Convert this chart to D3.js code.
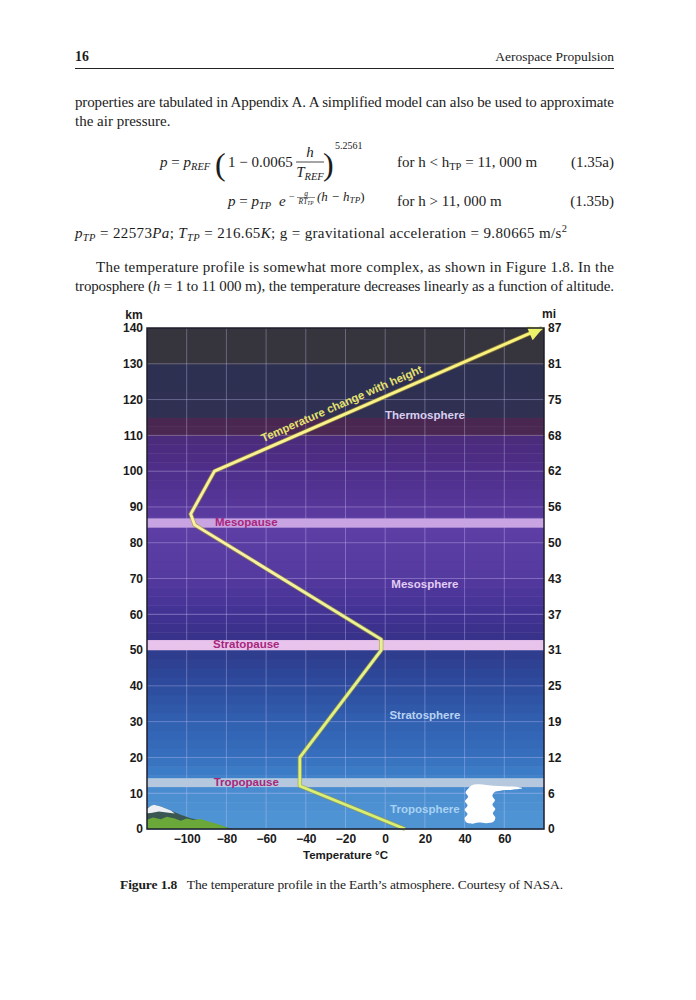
<!DOCTYPE html>
<html><head><meta charset="utf-8">
<script src="https://cdn.jsdelivr.net/npm/d3@7"></script>
<style>
body{margin:0;background:#fff;}
svg{display:block;}
text{white-space:pre;}
.serif{font-family:"Liberation Serif","Times New Roman",serif;fill:#1c1c1c;}
.sans{font-family:"Liberation Sans",Arial,Helvetica,sans-serif;font-weight:bold;}
</style></head><body>
<svg id="page" width="696" height="1000"></svg>
<script>
// ---------------- data ----------------
const kmTicks = [0,10,20,30,40,50,60,70,80,90,100,110,120,130,140];
const miLabels = ["0","6","12","19","25","31","37","43","50","56","62","68","75","81","87"];
const tempTicks = [-100,-80,-60,-40,-20,0,20,40,60];
const profileTemp = [10,-43,-43,-2,-2,-96,-98,-86,79];
const profileKm   = [0,12,20,50,53,85,88,100,140];
const pauseNames = ["Tropopause","Stratopause","Mesopause"];
const pauseLo = [11.7,50,84.2];
const pauseHi = [14.2,52.8,86.8];
const sphereNames = ["Troposphere","Stratosphere","Mesosphere","Thermosphere"];
const sphereKm = [5.6,31.8,68.4,115.6];
const sphereTemp = 20;
const pauseLabelTemp = -70;
// scenery outlines (temperature, km)
const mountainTemp = [-120,-120,-118,-116.5,-113,-108,-103,-98,-92,-86,-81,-77];
const mountainKm   = [0,5.6,6.5,6.8,6.3,5.2,4.0,3.0,2.3,1.5,0.6,0];
const snowTemp = [-120,-118,-116.5,-113,-108,-106,-110,-114,-118,-120];
const snowKm   = [5.6,6.5,6.8,6.3,5.2,4.3,4.6,4.9,4.5,4.4];
const treeTemp = [-120,-120,-117,-113,-110,-106,-103,-100,-97,-93,-89,-85,-82,-79,-78];
const treeKm   = [0,2.6,3.2,2.7,3.4,2.9,2.3,2.9,2.5,2.8,2.1,1.5,0.9,0.3,0];
const cloudTemp = [41,40,41.5,40,41.5,40.2,41.8,40.5,42,44,48,52,57,62,66,69,64,58,55,54,55.3,54,55.5,54.2,55.5,54.5,51,47,44];
const cloudKm   = [1.8,3,4.2,5.4,6.6,7.8,9,10.2,11.4,12.3,12.5,12.2,12.0,11.9,11.8,11.4,11.0,10.7,10.3,9.2,8,6.8,5.6,4.4,3.2,2,1.6,1.8,1.5];

// ---------------- page ----------------
const svg = d3.select('#page');
svg.append('rect').attr('width',696).attr('height',1000).attr('fill','#fff');

function rich(x, y, parts, size, attrs) {
  const t = svg.append('text').attr('class','serif').attr('x',x).attr('y',y).style('font-size', size + 'px');
  if (attrs) for (const k in attrs) t.attr(k, attrs[k]);
  let shift = 0;
  parts.forEach(p => {
    const s = typeof p === 'string' ? p : p[0];
    const st = typeof p === 'string' ? [] : p[1].split(' ');
    const ts = t.append('tspan').text(s);
    let target = 0;
    if (st.includes('sub')) { target = size*0.22; ts.style('font-size', (size*0.7) + 'px'); }
    if (st.includes('sup')) { target = -size*0.4; ts.style('font-size', (size*0.7) + 'px'); }
    if (st.includes('i')) ts.attr('font-style','italic');
    if (st.includes('b')) ts.attr('font-weight','bold');
    if (target - shift !== 0) ts.attr('dy', target - shift);
    shift = target;
  });
  return t;
}
const BODY = 15;

// header
rich(75, 61, [['16','b']], 13.8);
rich(614, 61, ['Aerospace Propulsion'], 13.5, {'text-anchor':'end'});
svg.append('line').attr('x1',75).attr('x2',614).attr('y1',68.5).attr('y2',68.5).attr('stroke','#222').attr('stroke-width',1);

// paragraph 1
rich(75, 107, ['properties are tabulated in Appendix A. A simplified model can also be used to approximate'], BODY, {textLength:539, lengthAdjust:'spacing'});
rich(75, 126, ['the air pressure.'], BODY);

// equation a
rich(160, 167, [['p','i'],' = ',['p','i'],['REF','i sub']], BODY);
rich(215, 175, ['('], 32);
rich(228, 167, ['1 \u2212 0.0065'], BODY);
rich(310, 157, [['h','i']], BODY, {'text-anchor':'middle'});
svg.append('line').attr('x1',296).attr('x2',324).attr('y1',162).attr('y2',162).attr('stroke','#1c1c1c').attr('stroke-width',0.8);
rich(310, 177, [['T','i'],['REF','i sub']], BODY, {'text-anchor':'middle'});
rich(323, 175, [')'], 32);
rich(335, 149, ['5.2561'], 10);
rich(397, 167, ['for h < h',['TP','sub'],' = 11, 000 m'], BODY);
rich(614, 167, ['(1.35a)'], BODY, {'text-anchor':'end'});

// equation b
rich(228, 206, [['p','i'],' = ',['p','i'],['TP','i sub']], BODY);
rich(279, 206, [['e','i']], BODY);
rich(289, 200, ['\u2212'], 10);
rich(306, 195.5, [['g','i']], 7.5, {'text-anchor':'middle'});
svg.append('line').attr('x1',297).attr('x2',315).attr('y1',197.5).attr('y2',197.5).attr('stroke','#1c1c1c').attr('stroke-width',0.5);
rich(306, 203.5, [['RT','i'],['TP','i sub']], 7.5, {'text-anchor':'middle'});
rich(317, 200.5, [['(h \u2212 h','i'],['TP','i sub'],')'], 13);
rich(397, 206, ['for h > 11, 000 m'], BODY);
rich(614, 206, ['(1.35b)'], BODY, {'text-anchor':'end'});

// constants line
rich(75, 238, [['p','i'],['TP','i sub'],' = 22573',['Pa','i'],'; ',['T','i'],['TP','i sub'],' = 216.65',['K','i'],'; g = gravitational acceleration = 9.80665 m/s',['2','sup']], BODY, {textLength:492, lengthAdjust:'spacing'});

// paragraph 2
rich(96, 272, ['The temperature profile is somewhat more complex, as shown in Figure 1.8. In the'], BODY, {textLength:518, lengthAdjust:'spacing'});
rich(75, 291, ['troposphere (',['h','i'],' = 1 to 11 000 m), the temperature decreases linearly as a function of altitude.'], BODY, {textLength:539, lengthAdjust:'spacing'});

// caption
rich(120, 889, [['Figure 1.8','b'],'   The temperature profile in the Earth\u2019s atmosphere. Courtesy of NASA.'], 13.5, {textLength:443, lengthAdjust:'spacing'});

// ---------------- chart ----------------
const x = d3.scaleLinear().domain([-120,80]).range([147,544]);
const y = d3.scaleLinear().domain([0,140]).range([829,328]);
const chart = svg.append('g');

// background shading by altitude (style)
const shade = d3.scaleLinear()
  .domain([0,11,15,20,30,40,50,53,60,70,80,87,90,100,110,110.01,115,115.01,130,130.01,140])
  .range(['#5096d4','#4a8dd0','#3d7ec8','#3770bf','#3160b0','#2e4c9e','#2f3b8c','#37328a','#413292','#54399f','#5b3da3','#5e3fa4','#57379a','#4e2f8a','#4a2a7a','#4a2852','#482650','#2f3052','#2e3052','#36343c','#36343c']);
const bands = d3.range(0,140,2.5);
chart.selectAll('rect.band').data(bands).join('rect').attr('class','band')
  .attr('x', x(-120)).attr('width', x(80)-x(-120))
  .attr('y', d => y(d+2.5)).attr('height', d => y(d)-y(d+2.5)+0.5)
  .attr('fill', d => shade(d+1.25));

// grid
chart.selectAll('line.vg').data(tempTicks).join('line').attr('class','vg')
  .attr('x1', d=>x(d)).attr('x2', d=>x(d)).attr('y1', y(140)).attr('y2', y(0))
  .attr('stroke','#d8d0ff').attr('stroke-opacity',0.33).attr('stroke-width',1);
chart.selectAll('line.hg').data(kmTicks.slice(1,-1)).join('line').attr('class','hg')
  .attr('y1', d=>y(d)).attr('y2', d=>y(d)).attr('x1', x(-120)).attr('x2', x(80))
  .attr('stroke','#d8d0ff').attr('stroke-opacity',0.33).attr('stroke-width',1);

// pause bands
const pauseFill = {Tropopause:'#b6c8de', Stratopause:'#e8c4ec', Mesopause:'#c8a4e2'};
const pauses = pauseNames.map((n,i)=>({name:n, lo:pauseLo[i], hi:pauseHi[i]}));
chart.selectAll('rect.pause').data(pauses).join('rect').attr('class','pause')
  .attr('x', x(-120)).attr('width', x(80)-x(-120))
  .attr('y', d=>y(d.hi)).attr('height', d=>y(d.lo)-y(d.hi))
  .attr('fill', d=>pauseFill[d.name]);

// scenery
const poly = (ts, ks) => 'M' + ts.map((t,i)=>x(t)+','+y(ks[i])).join('L') + 'Z';
chart.append('path').attr('d', poly(mountainTemp, mountainKm)).attr('fill','#3b5753');
chart.append('path').attr('d', poly(snowTemp, snowKm)).attr('fill','#eceff4');
chart.append('path').attr('d', poly(treeTemp, treeKm)).attr('fill','#6aa83a');
const cloudLine = d3.line().x(d=>x(d[0])).y(d=>y(d[1])).curve(d3.curveCatmullRomClosed);
chart.append('path').attr('d', cloudLine(cloudTemp.map((t,i)=>[t,cloudKm[i]]))).attr('fill','#ffffff');

// sphere labels
const sphereFill = {Troposphere:'#a9d2f2', Stratosphere:'#b8d2f4', Mesosphere:'#e2ccf4', Thermosphere:'#dccdf0'};
chart.selectAll('text.sphere').data(sphereNames).join('text').attr('class','sans sphere')
  .attr('x', x(sphereTemp)).attr('y', (d,i)=>y(sphereKm[i])).attr('dy','0.36em')
  .attr('text-anchor','middle').attr('font-size',11.5).attr('fill', d=>sphereFill[d]).text(d=>d);
chart.selectAll('text.pause').data(pauses).join('text').attr('class','sans pause')
  .attr('x', x(pauseLabelTemp)).attr('y', d=>y((d.lo+d.hi)/2+0.2)).attr('dy','0.36em')
  .attr('text-anchor','middle').attr('font-size',11.5).attr('fill','#a8267c').text(d=>d.name);

// profile line
const defs = svg.append('defs');
const grad = defs.append('linearGradient').attr('id','lg').attr('gradientUnits','userSpaceOnUse')
  .attr('x1',0).attr('x2',0).attr('y1',y(140)).attr('y2',y(0));
grad.append('stop').attr('offset','0%').attr('stop-color','#fbf27a');
grad.append('stop').attr('offset','45%').attr('stop-color','#f8f2a4');
grad.append('stop').attr('offset','65%').attr('stop-color','#e4f48c');
grad.append('stop').attr('offset','100%').attr('stop-color','#d6f070');
defs.append('marker').attr('id','arr').attr('viewBox','0 0 10 10').attr('refX',9).attr('refY',5)
  .attr('markerUnits','userSpaceOnUse').attr('markerWidth',17).attr('markerHeight',15).attr('orient','auto')
  .append('path').attr('d','M0,0L10,5L0,10Z').attr('fill','#eef46a');
const pts = profileTemp.map((t,i)=>[t, profileKm[i]]);
const lineGen = d3.line().x(d=>x(d[0])).y(d=>y(d[1]));
chart.append('path').attr('d', lineGen(pts)).attr('fill','none').attr('stroke','#a89a3a').attr('stroke-opacity',0.7)
  .attr('stroke-width',4.4).attr('stroke-linejoin','round');
chart.append('path').attr('d', lineGen(pts)).attr('fill','none').attr('stroke','url(#lg)')
  .attr('stroke-width',2.8).attr('stroke-linejoin','round').attr('marker-end','url(#arr)');

// label along the last segment
const n = pts.length;
const p0 = pts[n-2], p1 = pts[n-1];
const ang = Math.atan2(y(p1[1])-y(p0[1]), x(p1[0])-x(p0[0])) * 180/Math.PI;
const tStart = -60;
const kStart = p0[1] + (p1[1]-p0[1])*(tStart-p0[0])/(p1[0]-p0[0]);
chart.append('text').attr('class','sans').attr('font-size',11.4).attr('fill','#e6e26e')
  .attr('transform',`translate(${x(tStart)},${y(kStart)}) rotate(${ang})`).attr('y',-7)
  .text('Temperature change with height');

// border
chart.append('rect').attr('x',x(-120)).attr('y',y(140)).attr('width',x(80)-x(-120)).attr('height',y(0)-y(140))
  .attr('fill','none').attr('stroke','#1e1e2c').attr('stroke-width',1.5);

// axes
function styleAxis(g){
  g.select('.domain').remove();
  g.selectAll('text').attr('font-family','"Liberation Sans",Arial,sans-serif').attr('font-weight','bold')
    .attr('font-size',12).attr('fill','#1a1a1a');
}
svg.append('g').attr('transform',`translate(${x(-120)},0)`)
  .call(d3.axisLeft(y).tickValues(kmTicks).tickSize(0).tickPadding(4)).call(styleAxis);
svg.append('g').attr('transform',`translate(${x(80)},0)`)
  .call(d3.axisRight(y).tickValues(kmTicks).tickFormat((d,i)=>miLabels[i]).tickSize(0).tickPadding(4)).call(styleAxis);
svg.append('g').attr('transform',`translate(0,${y(0)})`)
  .call(d3.axisBottom(x).tickValues(tempTicks).tickSize(0).tickPadding(5.5)).call(styleAxis);

svg.append('text').attr('class','sans').attr('font-size',12).attr('fill','#1a1a1a')
  .attr('x',134).attr('y',319).attr('text-anchor','middle').text('km');
svg.append('text').attr('class','sans').attr('font-size',12).attr('fill','#1a1a1a')
  .attr('x',549).attr('y',318).attr('text-anchor','middle').text('mi');
svg.append('text').attr('class','sans').attr('font-size',11.5).attr('fill','#1a1a1a')
  .attr('x',(x(-120)+x(80))/2).attr('y',859).attr('text-anchor','middle').text('Temperature \u00b0C');
</script>
</body></html>
